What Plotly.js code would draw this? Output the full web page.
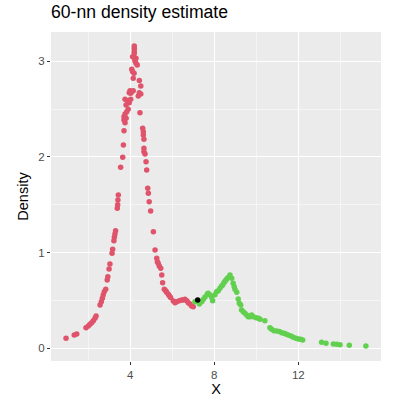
<!DOCTYPE html>
<html>
<head>
<meta charset="utf-8">
<script src="https://cdn.plot.ly/plotly-3.0.1.min.js"></script>
<style>
  html, body { margin: 0; padding: 0; background: #fff; }
  #plot { width: 402px; height: 404px; }
</style>
</head>
<body>
<div id="plot"></div>
<script>
// cluster 1 (red)
var redX = [0.94, 1.33, 1.45, 1.89, 2.00, 2.08, 2.16, 2.24, 2.32, 2.37,
  2.56, 2.62, 2.67, 2.71, 2.76, 2.83, 2.90, 2.93, 2.99, 3.03,
  3.13, 3.16, 3.22, 3.24, 3.27, 3.30, 3.38, 3.40, 3.41, 3.43,
  3.54, 3.64, 3.67, 3.70, 3.75, 3.70, 3.80, 3.70, 3.75, 3.83,
  3.90, 3.80, 3.95, 3.86, 3.75, 4.02, 3.95, 4.02, 3.99, 4.07,
  4.14, 4.14, 4.18, 4.11, 4.07, 4.33, 4.27, 4.22, 4.27, 4.18,
  4.11, 4.19, 4.19, 4.19, 4.19, 4.43, 4.50, 4.43, 4.50, 4.38,
  4.46, 4.59, 4.62, 4.62, 4.65, 4.65, 4.65, 4.70, 4.75, 4.78,
  4.83, 4.86, 4.90, 4.97, 5.10, 5.18, 5.26, 5.29, 5.33, 5.38,
  5.45, 5.50, 5.54, 5.62, 5.69, 5.73, 5.81, 5.86, 5.92, 6.05,
  6.13, 6.21, 6.33, 6.45, 6.52, 6.60, 6.69, 6.76, 6.84, 6.92, 7.00];
var redY = [0.104, 0.139, 0.150, 0.215, 0.233, 0.250, 0.267, 0.288, 0.313, 0.337,
  0.452, 0.487, 0.522, 0.557, 0.591, 0.617, 0.714, 0.748, 0.829, 0.881,
  0.993, 1.034, 1.124, 1.160, 1.194, 1.229, 1.463, 1.500, 1.550, 1.602,
  1.891, 1.996, 2.124, 2.274, 2.357, 2.386, 2.403, 2.420, 2.448, 2.472,
  2.497, 2.542, 2.566, 2.587, 2.602, 2.602, 2.670, 2.665, 2.690, 2.680,
  2.690, 2.821, 2.874, 2.890, 2.915, 2.960, 2.978, 3.005, 3.030, 3.041,
  3.047, 3.082, 3.107, 3.135, 3.159, 2.797, 2.741, 2.670, 2.657, 2.636,
  2.462, 2.299, 2.263, 2.229, 2.184, 2.090, 2.054, 2.030, 1.950, 1.863,
  1.672, 1.620, 1.532, 1.435, 1.218, 1.027, 0.940, 0.905, 0.888, 0.860,
  0.836, 0.766, 0.686, 0.617, 0.602, 0.585, 0.565, 0.550, 0.530, 0.494,
  0.476, 0.487, 0.497, 0.505, 0.505, 0.512, 0.497, 0.476, 0.463, 0.442, 0.435];

// cluster 2 (green)
var greenX = [7.08, 7.29, 7.40, 7.48, 7.56, 7.67, 7.71, 7.80, 7.88, 7.92,
  8.03, 8.11, 8.19, 8.27, 8.35, 8.40, 8.46, 8.51, 8.56, 8.62,
  8.71, 8.75, 8.83, 8.90, 8.95, 8.99, 9.07, 9.14, 9.19, 9.26,
  9.30, 9.38, 9.46, 9.54, 9.62, 9.70, 9.78, 9.86, 9.99, 10.10,
  10.18, 10.41, 10.65, 10.73, 10.84, 10.97, 11.10, 11.21, 11.32, 11.41,
  11.52, 11.65, 11.76, 11.89, 12.00, 12.11, 12.21, 13.11, 13.32, 13.67,
  13.83, 13.99, 14.43, 15.22];
var greenY = [0.487, 0.463, 0.487, 0.512, 0.536, 0.567, 0.574, 0.557, 0.530, 0.497,
  0.560, 0.591, 0.602, 0.627, 0.651, 0.661, 0.686, 0.700, 0.714, 0.731,
  0.748, 0.766, 0.731, 0.679, 0.644, 0.615, 0.585, 0.515, 0.470, 0.452,
  0.400, 0.382, 0.366, 0.348, 0.330, 0.330, 0.348, 0.330, 0.320, 0.313,
  0.303, 0.288, 0.215, 0.199, 0.184, 0.181, 0.174, 0.163, 0.157, 0.149,
  0.139, 0.129, 0.115, 0.104, 0.097, 0.094, 0.087, 0.063, 0.052, 0.045,
  0.042, 0.038, 0.031, 0.024];

// the query point
var blackX = [7.21];
var blackY = [0.505];

var mk = function (col) {
  return { color: col, size: 5.5, line: { width: 0 } };
};

var data = [
  { x: redX, y: redY, type: 'scatter', mode: 'markers', marker: mk('#DF536B'), hoverinfo: 'none' },
  { x: greenX, y: greenY, type: 'scatter', mode: 'markers', marker: mk('#61D04F'), hoverinfo: 'none' },
  { x: blackX, y: blackY, type: 'scatter', mode: 'markers', marker: mk('#000000'), hoverinfo: 'none' }
];

var axisBase = {
  showline: false,
  zeroline: false,
  gridcolor: '#FFFFFF',
  gridwidth: 1.1,
  ticks: 'outside',
  ticklen: 3,
  tickwidth: 1,
  tickcolor: '#333333',
  tickfont: { family: 'Liberation Sans, Arial, sans-serif', size: 11.5, color: '#4D4D4D' },
  title: { font: { family: 'Liberation Sans, Arial, sans-serif', size: 14.5, color: '#000' } }
};

var layout = {
  width: 402,
  height: 404,
  margin: { l: 51, r: 21, t: 32, b: 43 },
  paper_bgcolor: '#FFFFFF',
  plot_bgcolor: '#EBEBEB',
  showlegend: false,
  title: {
    text: '60-nn density estimate',
    x: 51 / 402, xanchor: 'left',
    y: 0.985, yanchor: 'top',
    font: { family: 'Liberation Sans, Arial, sans-serif', size: 17.6, color: '#000' }
  },
  xaxis: Object.assign({}, axisBase, {
    range: [0.224, 15.94],
    tick0: 0, dtick: 4,
    minor: { dtick: 2, tick0: 0, showgrid: true, gridcolor: '#FFFFFF', gridwidth: 0.5, ticks: '' },
    title: { text: 'X', standoff: 3, font: axisBase.title.font }
  }),
  yaxis: Object.assign({}, axisBase, {
    range: [-0.133, 3.305],
    tick0: 0, dtick: 1,
    minor: { dtick: 0.5, tick0: 0, showgrid: true, gridcolor: '#FFFFFF', gridwidth: 0.5, ticks: '' },
    title: { text: 'Density', standoff: 6, font: axisBase.title.font }
  })
};

Plotly.newPlot('plot', data, layout, { displayModeBar: false, staticPlot: true });
</script>
</body>
</html>
